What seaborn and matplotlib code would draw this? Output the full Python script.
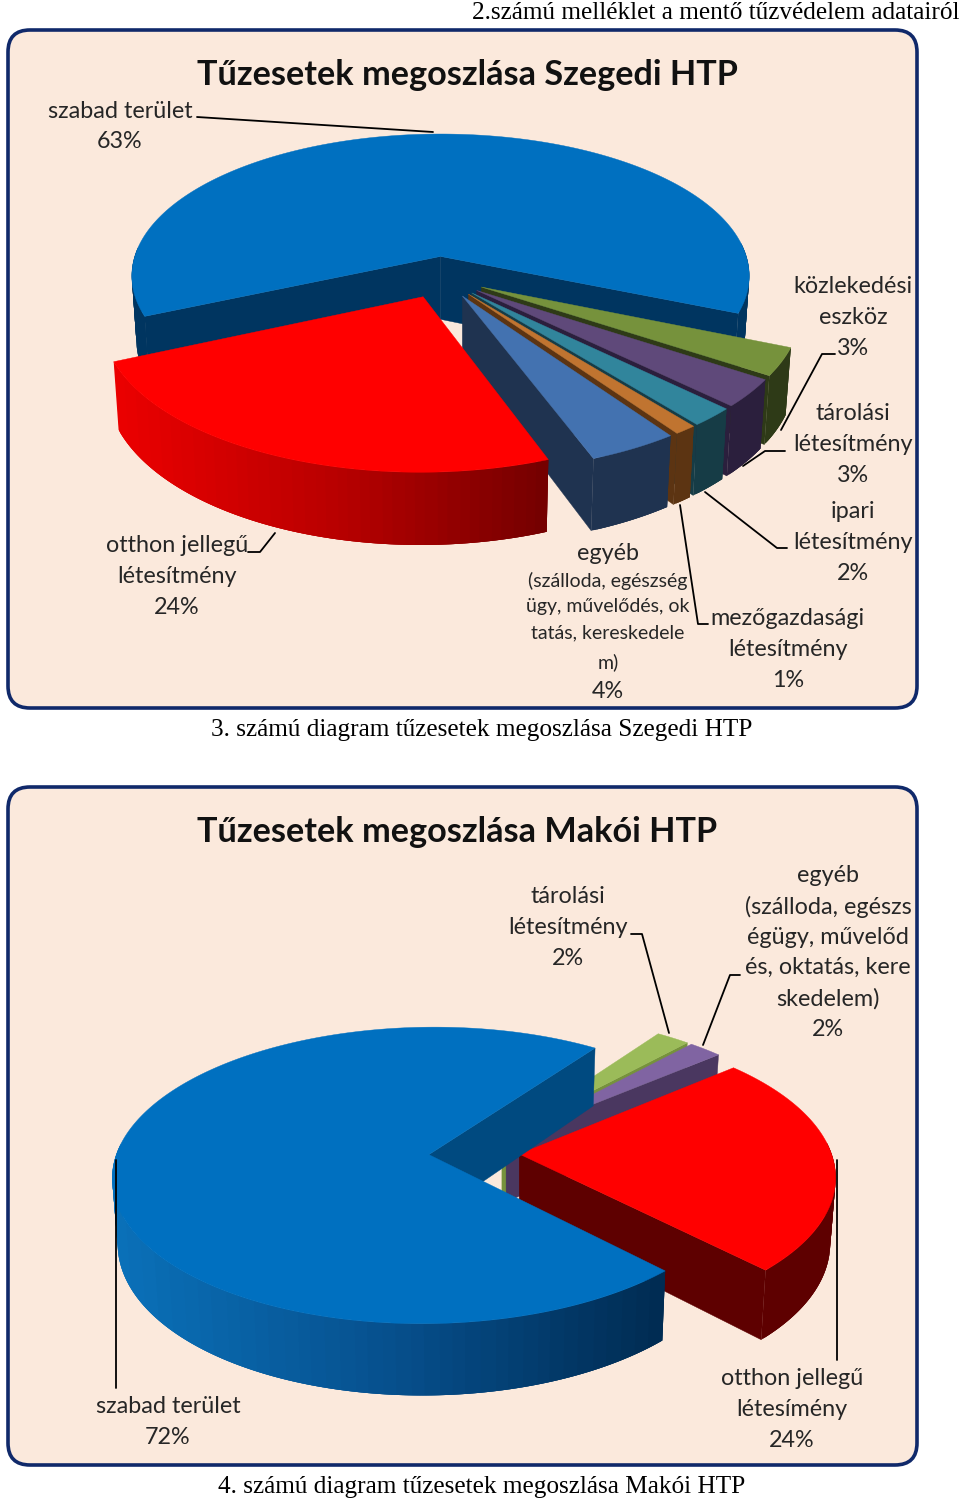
import numpy as np
import matplotlib
matplotlib.use("Agg")
import matplotlib.pyplot as plt
from matplotlib.patches import FancyBboxPatch, Polygon
import seaborn as sns

# Szegedi HTP
szeged_labels = ["szabad terület", "közlekedési eszköz", "tárolási létesítmény", "ipari létesítmény",
                 "mezőgazdasági létesítmény", "egyéb", "otthon jellegű létesítmény"]
szeged_values = [63, 3, 3, 2, 1, 4, 24]
szeged_top = ["#0070c0", "#76923c", "#5f497a", "#31859c", "#c07430", "#4372b0", "#ff0000"]
szeged_wall = ["#003560", "#2e3a17", "#2b1f3d", "#163c46", "#5c3412", "#1f3350", "#7a0000"]

# Makói HTP
mako_labels = ["szabad terület", "tárolási létesítmény", "egyéb", "otthon jellegű létesítmény"]
mako_values = [72, 2, 2, 24]
mako_top = ["#0070c0", "#9bbb59", "#8064a2", "#ff0000"]
mako_wall = ["#004a80", "#76923c", "#4a3760", "#5e0000"]

sns.set_theme(style="white")
plt.rcParams["font.family"] = ["Lato", "DejaVu Sans"]

PANEL = "#fbe9dc"
BORDER = "#10296a"
TXT = "#262626"


def project(x, y, cx, cy):
    # a kör síkja -> kép, enyhe perspektívával
    w = 1 + 0.14 * y
    return cx + 312 * x / w, cy - 315 * 0.46 * y / w


def thickness(y):
    return 64 * (1 - 0.12 * y)


def draw_slice(ax, a0, a1, top, wall, grad, cx, cy, explode=0.145):
    mid = np.radians((a0 + a1) / 2)
    ox, oy = explode * np.cos(mid), explode * np.sin(mid)
    ang = np.radians(np.linspace(a0, a1, max(int(abs(a1 - a0)) * 2, 8)))
    xs, ys = ox + np.cos(ang), oy + np.sin(ang)
    px, py = project(xs, ys, cx, cy)
    bx = cx + (px - cx) * 0.985
    by = py + thickness(ys)
    ax0, ay0 = project(ox, oy, cx, cy)
    bx0, by0 = ax0, ay0 + thickness(oy)

    # belső falak, csak ami a néző felé néz
    if np.cos(ang[0]) > 0:
        ax.add_patch(Polygon([(ax0, ay0), (px[0], py[0]), (bx[0], by[0]), (bx0, by0)], fc=wall, ec=wall, lw=0.3))
    if np.cos(ang[-1]) < 0:
        ax.add_patch(Polygon([(ax0, ay0), (px[-1], py[-1]), (bx[-1], by[-1]), (bx0, by0)], fc=wall, ec=wall, lw=0.3))

    # külső fal sávokban, átfedéssel hogy ne csíkozzon
    front = np.where(np.sin(ang) < 0.08)[0]
    if len(front) > 1:
        cols = sns.blend_palette(grad if grad else [wall, wall], 40)
        lo, hi = px[front].min(), px[front].max()
        for i in front[:-1]:
            j = min(i + 3, front[-1])
            k = min(i + 1, front[-1])
            c = cols[int(39 * ((px[i] + px[k]) / 2 - lo) / max(hi - lo, 1))]
            seg = np.arange(i, j + 1)
            pts = np.r_[np.column_stack([px[seg], py[seg]]), np.column_stack([bx[seg], by[seg]])[::-1]]
            ax.add_patch(Polygon(pts, fc=c, ec="none", lw=0))

    ax.add_patch(Polygon(np.column_stack([np.r_[ax0, px], np.r_[ay0, py]]), fc=top, ec=top, lw=0.3))


def draw_pie(ax, values, top, wall, start, order, grads, cx, cy):
    # az óramutató járásával egyező irányban, az első szelet végétől
    edges = start - np.cumsum([0] + list(values)) * 3.6
    for i in order:
        draw_slice(ax, edges[i + 1], edges[i], top[i], wall[i], grads.get(i), cx, cy)


def panel(ax, y0):
    ax.add_patch(FancyBboxPatch((8, y0 + 1), 909, 678, boxstyle="round,pad=0,rounding_size=22",
                                fc=PANEL, ec=BORDER, lw=2.6))


def stack(ax, x, ys, lines, size=16.8):
    for y, s in zip(ys, lines):
        ax.text(x, y + 1.5, s, ha="center", va="center", fontsize=size, color=TXT)


def leader(ax, pts):
    ax.plot(*zip(*pts), color="black", lw=1.3, solid_capstyle="round")


fig = plt.figure(figsize=(9.6, 15.02), dpi=100)
ax = fig.add_axes([0, 0, 1, 1])
ax.set_xlim(0, 960)
ax.set_ylim(1502, 0)
ax.axis("off")

panel(ax, 29)
panel(ax, 786)

# első diagram: a 63% nagyjából a -22 foktól a 204 fokig tart
draw_pie(ax, szeged_values, szeged_top, szeged_wall, 204, [0, 1, 2, 3, 4, 5, 6],
         {6: ["#ea0000", "#b80000", "#720000"]}, 441, 277)

# második diagram, a kék van legelöl
draw_pie(ax, mako_values, mako_top, mako_wall, 314, [1, 2, 3, 0],
         {0: ["#0a70b8", "#064f8c", "#002a50"]}, 474, 1153)

ax.text(467, 75, "Tűzesetek megoszlása Szegedi HTP", ha="center", va="center", fontsize=24.7,
        fontweight="bold", color="#111111")
ax.text(457, 832, "Tűzesetek megoszlása Makói HTP", ha="center", va="center", fontsize=24.7,
        fontweight="bold", color="#111111")

stack(ax, 120, [110, 140], ["szabad terület", "63%"])
stack(ax, 853, [285, 316, 347], ["közlekedési", "eszköz", "3%"])
stack(ax, 853, [412, 443, 474], ["tárolási", "létesítmény", "3%"])
stack(ax, 853, [510, 541, 572], ["ipari", "létesítmény", "2%"])
stack(ax, 788, [617, 648, 679], ["mezőgazdasági", "létesítmény", "1%"])
stack(ax, 177, [544, 575, 606], ["otthon jellegű", "létesítmény", "24%"])
stack(ax, 608, [552, 690], ["egyéb", "4%"])
stack(ax, 608, [579, 605, 631, 661], ["(szálloda, egészség", "ügy, művelődés, ok", "tatás, kereskedele", "m)"], size=14)

stack(ax, 568, [895, 926, 957], ["tárolási", "létesítmény", "2%"])
stack(ax, 828, [874, 905, 936, 966, 997, 1028],
      ["egyéb", "(szálloda, egészs", "égügy, művelőd", "és, oktatás, kere", "skedelem)", "2%"])
stack(ax, 792, [1377, 1408, 1439], ["otthon jellegű", "létesímény", "24%"])
stack(ax, 168, [1405, 1436], ["szabad terület", "72%"])

leader(ax, [(197, 117), (433, 132)])
leader(ax, [(835, 354), (822, 354), (781, 430)])
leader(ax, [(785, 451), (765, 451), (743, 466)])
leader(ax, [(787, 548), (777, 548), (705, 492)])
leader(ax, [(708, 624), (698, 624), (680, 505)])
leader(ax, [(248, 552), (260, 552), (275, 533)])
leader(ax, [(631, 934), (642, 934), (669, 1033)])
leader(ax, [(740, 975), (730, 975), (703, 1045)])
leader(ax, [(837, 1160), (837, 1360)])
leader(ax, [(116, 1160), (116, 1388)])

serif = ["Liberation Serif", "DejaVu Serif"]
ax.text(960, 13, "2.számú melléklet a mentő tűzvédelem adatairól", ha="right", va="center",
        fontsize=18.2, family=serif, color="black")
ax.text(482, 730, "3. számú diagram tűzesetek megoszlása Szegedi HTP", ha="center", va="center",
        fontsize=18.2, family=serif, color="black")
ax.text(482, 1487, "4. számú diagram tűzesetek megoszlása Makói HTP", ha="center", va="center",
        fontsize=18.2, family=serif, color="black")

fig.savefig("out.png", dpi=100, facecolor="white")
